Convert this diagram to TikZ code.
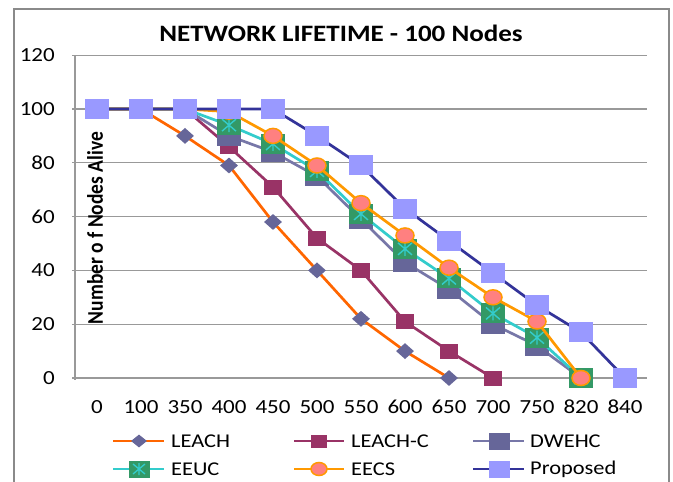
\documentclass[tikz,border=0pt]{standalone}
\usepackage{fontspec}
\usepackage{graphicx}
\setmainfont{Carlito}[FakeStretch=1.15]
\newfontfamily\plainfont{Carlito}
\usetikzlibrary{shapes.geometric}

\definecolor{framegray}{HTML}{8A8A8A}
\definecolor{gridgray}{HTML}{999999}
\definecolor{leachorange}{HTML}{FF6600}
\definecolor{slate}{HTML}{666699}
\definecolor{slateline}{HTML}{7777A8}
\definecolor{plum}{HTML}{993366}
\definecolor{teal}{HTML}{33CCCC}
\definecolor{seagreen}{HTML}{339966}
\definecolor{amber}{HTML}{FF9900}
\definecolor{salmon}{HTML}{FF8080}
\definecolor{navy}{HTML}{333399}
\definecolor{periwinkle}{HTML}{9999FF}

\tikzset{
  frameline/.style={draw=framegray, line width=1.8pt},
  gridline/.style={draw=gridgray, line width=1.3pt},
  tick/.style={font=\fontsize{20}{21}\selectfont, inner sep=0pt},
  series/.style={line width=2.7pt, line join=round, line cap=round},
  leachline/.style={series, draw=leachorange},
  leachcline/.style={series, draw=plum},
  dwehcline/.style={series, draw=slateline},
  eeucline/.style={series, draw=teal},
  eecsline/.style={series, draw=amber},
  propline/.style={series, draw=navy},
  leachmark/.style={diamond, fill=slate, inner sep=0pt, minimum width=18pt, minimum height=16pt},
  leachcmark/.style={rectangle, fill=plum, inner sep=0pt, minimum width=18pt, minimum height=15pt},
  dwehcmark/.style={rectangle, fill=slate, inner sep=0pt, minimum width=24pt, minimum height=20pt},
  eecsmark/.style={ellipse, fill=salmon, draw=amber, line width=1.5pt, inner sep=0pt, minimum width=18pt, minimum height=15pt},
  propmark/.style={rectangle, fill=periwinkle, inner sep=0pt, minimum width=24pt, minimum height=20pt},
  eeucmark/.pic={
    \fill[seagreen] (-12,-10) rectangle (12,10);
    \draw[teal, line width=1.4pt] (0,-7) -- (0,7) (-7,-6) -- (7,6) (-7,6) -- (7,-6);
  },
  eeucsmall/.pic={
    \fill[seagreen] (-10.5,-8.5) rectangle (10.5,8.5);
    \draw[teal, line width=1.3pt] (0,-6) -- (0,6) (-6,-5) -- (6,5) (-6,5) -- (6,-5);
  },
  legtext/.style={anchor=west, inner sep=0pt, font=\fontsize{19.5}{20}\selectfont},
}

\begin{document}
\begin{tikzpicture}[x=1pt, y=-1pt]
\useasboundingbox (0,0) rectangle (673,482);
\fill[white] (0,0) rectangle (673,482);

% chart frame
\draw[frameline] (14,482) -- (14,9) -- (669,9) -- (669,482);

% title
\node[font=\bfseries\fontsize{23.5}{25}\selectfont, inner sep=0pt] (title) at (341,33) {NETWORK LIFETIME - 100 Nodes};

% horizontal grid and value axis
\foreach \v in {0,20,...,120} {
  \draw[gridline] (72,{378-2.69*\v}) -- (647,{378-2.69*\v});
  \node[tick, anchor=east] (ylab\v) at (55,{378-2.69*\v}) {\v};
}
\draw[gridline] (75,55) -- (75,380);

% category labels
\foreach \c [count=\i from 0] in {0,100,350,400,450,500,550,600,650,700,750,820,840} {
  \node[tick] (xlab\i) at ({97+44*\i},407) {\c};
}

% value axis title
\node[rotate=90, inner sep=0pt] (ytitle) at (95,228)
  {\plainfont\bfseries\fontsize{19.5}{20}\selectfont\scalebox{1}[1.15]{Number o f Nodes Alive}};

% data points
\foreach \v [count=\i from 0] in {100,100,90,79,58,40,22,10,0}
  \coordinate (L\i) at ({97+44*\i},{378-2.69*\v});
\foreach \v [count=\i from 0] in {100,100,100,86,71,52,40,21,10,0}
  \coordinate (C\i) at ({97+44*\i},{378-2.69*\v});
\foreach \v [count=\i from 0] in {100,100,100,90,84,75,59,43,33,20,12,0}
  \coordinate (D\i) at ({97+44*\i},{378-2.69*\v});
\foreach \v [count=\i from 0] in {100,100,100,94,87,77,61,48,37,24,15,0}
  \coordinate (E\i) at ({97+44*\i},{378-2.69*\v});
\foreach \v [count=\i from 0] in {100,100,100,99,90,79,65,53,41,30,21,0}
  \coordinate (S\i) at ({97+44*\i},{378-2.69*\v});
\foreach \v [count=\i from 0] in {100,100,100,100,100,90,79,63,51,39,27,17,0}
  \coordinate (P\i) at ({97+44*\i},{378-2.69*\v});

% LEACH
\draw[leachline] (L0) \foreach \i in {1,...,8} { -- (L\i) };
\foreach \i in {0,...,8} \node[leachmark] at (L\i) {};
% LEACH-C
\draw[leachcline] (C0) \foreach \i in {1,...,9} { -- (C\i) };
\foreach \i in {0,...,9} \node[leachcmark] at (C\i) {};
% DWEHC
\draw[dwehcline] (D0) \foreach \i in {1,...,11} { -- (D\i) };
\foreach \i in {0,...,11} \node[dwehcmark] at (D\i) {};
% EEUC
\draw[eeucline] (E0) \foreach \i in {1,...,11} { -- (E\i) };
\foreach \i in {0,...,11} \pic at (E\i) {eeucmark};
% EECS
\draw[eecsline] (S0) \foreach \i in {1,...,11} { -- (S\i) };
\foreach \i in {0,...,11} \node[eecsmark] at (S\i) {};
% Proposed
\draw[propline] (P0) \foreach \i in {1,...,12} { -- (P\i) };
\foreach \i in {0,...,12} \node[propmark] at (P\i) {};

% legend
\coordinate (k1a) at (113,441); \coordinate (k1b) at (164,441);
\coordinate (k2a) at (294,441); \coordinate (k2b) at (344,441);
\coordinate (k3a) at (473,441); \coordinate (k3b) at (524,441);
\coordinate (k4a) at (113,469); \coordinate (k4b) at (164,469);
\coordinate (k5a) at (294,469); \coordinate (k5b) at (344,469);
\coordinate (k6a) at (473,469); \coordinate (k6b) at (524,469);

\draw[leachline, line cap=butt] (k1a) -- (k1b);
\node[leachmark, minimum width=16pt, minimum height=13pt] at (139,441) {};
\node[legtext] (leg1) at (171,441) {LEACH};

\draw[leachcline, line cap=butt] (k2a) -- (k2b);
\node[leachcmark, minimum width=16pt, minimum height=13pt] at (319,441) {};
\node[legtext] (leg2) at (351,441) {LEACH-C};

\draw[dwehcline, line cap=butt] (k3a) -- (k3b);
\node[dwehcmark, minimum width=21pt, minimum height=17pt] at (499,441) {};
\node[legtext] (leg3) at (530,441) {DWEHC};

\draw[eeucline, line cap=butt] (k4a) -- (k4b);
\pic at (139,469) {eeucsmall};
\node[legtext] (leg4) at (171,469) {EEUC};

\draw[eecsline, line cap=butt] (k5a) -- (k5b);
\node[eecsmark, minimum width=16pt, minimum height=13pt] at (319,469) {};
\node[legtext] (leg5) at (351,469) {EECS};

\draw[propline, line cap=butt] (k6a) -- (k6b);
\node[propmark, minimum width=21pt, minimum height=17pt] at (499,469) {};
\node[legtext] (leg6) at (530,469) {Proposed};
\end{tikzpicture}
\end{document}
